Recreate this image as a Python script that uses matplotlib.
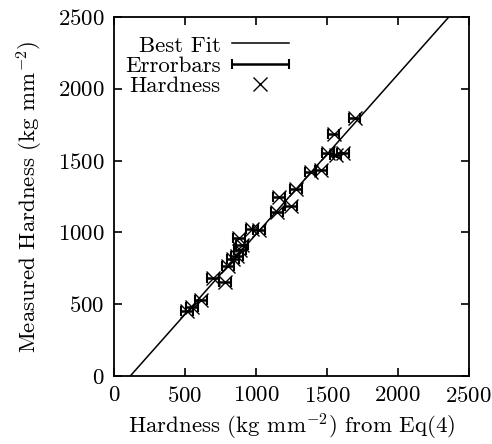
import matplotlib
matplotlib.use("Agg")
import matplotlib.pyplot as plt
import numpy as np
from matplotlib.container import ErrorbarContainer
from matplotlib.legend_handler import HandlerErrorbar

# hardness from Eq(4) vs measured hardness (kg mm^-2)
calc_hardness = [514, 549, 612, 697, 781, 802, 837, 865, 887, 901, 880, 971,
                 1020, 1147, 1161, 1246, 1281, 1386, 1457, 1506, 1548, 1562,
                 1612, 1696]
meas_hardness = [452, 480, 528, 682, 654, 765, 814, 834, 876, 911, 960, 1022,
                 1015, 1140, 1245, 1182, 1300, 1419, 1433, 1550, 1683, 1536,
                 1550, 1794]
calc_err = 40

fit_slope = 1.113
fit_intercept = -126

plt.rcParams["font.family"] = "cmr10"
plt.rcParams["mathtext.fontset"] = "cm"
plt.rcParams["axes.formatter.use_mathtext"] = True
plt.rcParams["font.size"] = 16.5

fig = plt.figure(figsize=(4.92, 4.44), dpi=100)
ax = fig.add_axes([0.232, 0.153, 0.721, 0.809])

x = np.array(calc_hardness)
y = np.array(meas_hardness)

xs = np.linspace(0, 2500, 200)
fit_line, = ax.plot(xs, fit_slope * xs + fit_intercept, color="black", lw=1.1,
                    label="Best Fit")
err = ax.errorbar(x, y, xerr=calc_err, fmt="none", ecolor="black",
                  elinewidth=1.8, capsize=3.5, capthick=1.5, label="Errorbars")
pts, = ax.plot(x, y, "x", color="black", ms=10, mew=1.0, label="Hardness")

ax.set_xlim(0, 2500)
ax.set_ylim(0, 2500)
ax.set_xticks(np.arange(0, 2501, 500))
ax.set_yticks(np.arange(0, 2501, 500))
ax.tick_params(direction="in", top=True, right=True, length=6, width=1.2,
               pad=7)
for s in ax.spines.values():
    s.set_linewidth(1.3)

ax.set_xlabel(r"Hardness (kg mm$^{-2}$) from Eq(4)", labelpad=4)
ax.set_ylabel(r"Measured Hardness (kg mm$^{-2}$)", labelpad=9)

ax.legend(handles=[fit_line, err, pts], loc="upper left", frameon=False,
          markerfirst=False, handlelength=2.5, labelspacing=0.0,
          borderaxespad=0.0, borderpad=0.2, handletextpad=0.48,
          bbox_to_anchor=(0.018, 0.961),
          handler_map={ErrorbarContainer: HandlerErrorbar(xerr_size=1.25)})

fig.savefig("out.png", dpi=100)
